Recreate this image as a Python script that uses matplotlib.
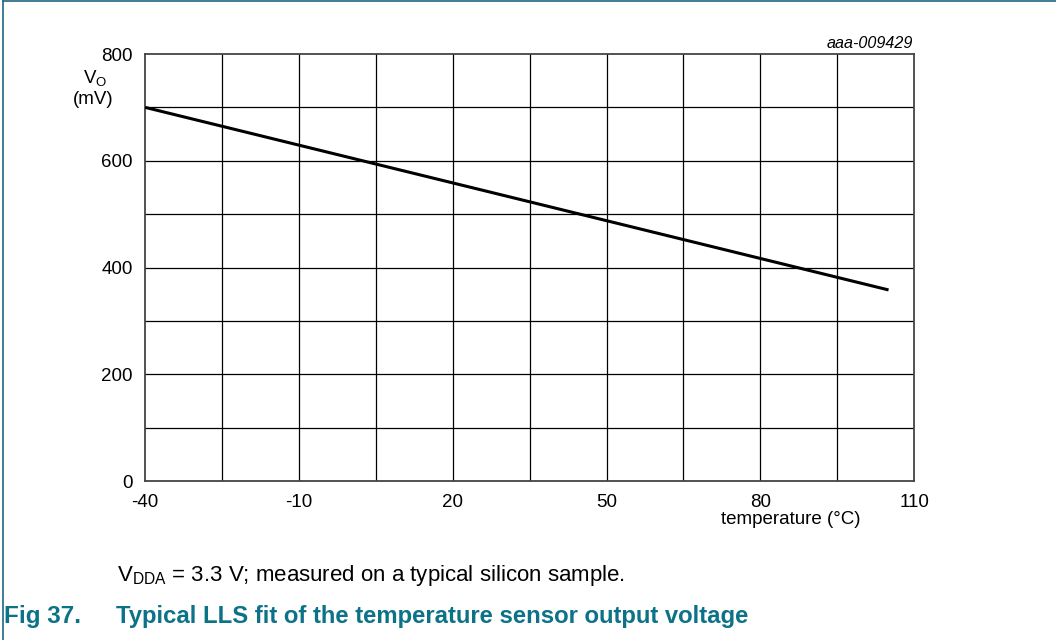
import matplotlib
matplotlib.use('Agg')
import matplotlib.pyplot as plt
from matplotlib.lines import Line2D

plt.rcParams['font.family'] = ['Liberation Sans', 'DejaVu Sans']
plt.rcParams['mathtext.fontset'] = 'custom'
plt.rcParams['mathtext.rm'] = 'Liberation Sans'
plt.rcParams['mathtext.it'] = 'Liberation Sans:italic'

# LLS fit end points
temperature = [-40, 105]
vout_mv = [700, 358]

x_ticks = [-40, -10, 20, 50, 80, 110]
y_ticks = [0, 200, 400, 600, 800]
x_grid = list(range(-40, 111, 15))
y_grid = list(range(0, 801, 100))

TEAL = '#0b7287'

fig = plt.figure(figsize=(10.56, 6.4), dpi=100)
ax = fig.add_axes([0.1375, 0.2484, 0.7282, 0.6672])

ax.set_xlim(-40, 110)
ax.set_ylim(0, 800)
for gx in x_grid[1:-1]:
    ax.axvline(gx, color='black', lw=0.9, zorder=1)
for gy in y_grid[1:-1]:
    ax.axhline(gy, color='black', lw=0.9, zorder=1)

ax.plot(temperature, vout_mv, color='black', lw=2.2, solid_capstyle='butt', zorder=3)

ax.set_xticks(x_ticks)
ax.set_yticks(y_ticks)
ax.set_xticklabels([str(v) for v in x_ticks])
ax.set_yticklabels([str(v) for v in y_ticks])
ax.tick_params(length=0, labelsize=13.5)
ax.tick_params(axis='x', pad=9)
ax.tick_params(axis='y', pad=9)
for s in ax.spines.values():
    s.set_color('#444444')
    s.set_linewidth(1.3)

# axis labels and notes
fig.text(95 / 1056, 1 - 78 / 640, 'V$_\\mathrm{O}$', ha='center', va='center', fontsize=13.5)
fig.text(93 / 1056, 1 - 100 / 640, '(mV)', ha='center', va='center', fontsize=13.5)
fig.text(791 / 1056, 1 - 519 / 640, 'temperature (°C)', ha='center', va='center', fontsize=13.5)
fig.text(913 / 1056, 1 - 43 / 640, 'aaa-009429', ha='right', va='center', fontsize=11.6, style='italic')

fig.text(117 / 1056, 1 - 576 / 640, 'V$_\\mathrm{DDA}$ = 3.3 V; measured on a typical silicon sample.',
         ha='left', va='center', fontsize=16)
fig.text(4 / 1056, 1 - 617 / 640, 'Fig 37.', ha='left', va='center', fontsize=17.5,
         fontweight='bold', color=TEAL)
fig.text(116 / 1056, 1 - 617 / 640, 'Typical LLS fit of the temperature sensor output voltage',
         ha='left', va='center', fontsize=17.2, fontweight='bold', color=TEAL)

# page frame (left and top edge)
fig.add_artist(Line2D([3 / 1056, 3 / 1056], [0, 1 - 1 / 640], transform=fig.transFigure,
                      color='#1f6680', lw=1.2))
fig.add_artist(Line2D([3 / 1056, 1], [1 - 1 / 640, 1 - 1 / 640], transform=fig.transFigure,
                      color='#1f6680', lw=1.2))

fig.savefig('out.png', dpi=100)
